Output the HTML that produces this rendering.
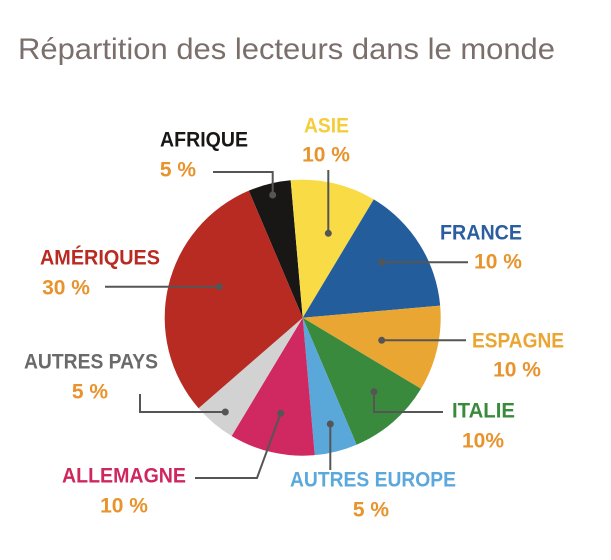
<!DOCTYPE html>
<html><head><meta charset="utf-8"><style>
html,body{margin:0;padding:0;background:#fff;width:611px;height:560px;overflow:hidden}
svg{display:block}
</style></head><body>
<svg id="c" width="611" height="560" xmlns="http://www.w3.org/2000/svg">
<text x="18" y="59" font-family="Liberation Sans, sans-serif" font-size="30" fill="#7a6f6b" textLength="537" lengthAdjust="spacingAndGlyphs">Répartition des lecteurs dans le monde</text>
</svg>
<script>
const categories = ["AFRIQUE","ASIE","FRANCE","ESPAGNE","ITALIE","AUTRES EUROPE","ALLEMAGNE","AUTRES PAYS","AMÉRIQUES"];
const values = [5,10,15,10,10,5,10,5,30];
const valueLabels = ["5 %","10 %","10 %","10 %","10%","5 %","10 %","5 %","30 %"];
const colors = ["#181716","#f9dc45","#245d9c","#eaa632","#3a8a3e","#5aa7da","#d02860","#d1d2d1","#b82b23"];
const labelColors = ["#181716","#f5cd3b","#2a5ea0","#eba532","#3a8a3e","#5ba8dc","#d0265e","#6a6a6a","#b82a22"];
const cx=302.7, cy=317.7, R=138, startDeg=-23;
const svg=document.getElementById('c');
const NS='http://www.w3.org/2000/svg';
function pt(deg,r){const a=(deg-90)*Math.PI/180;return [cx+r*Math.cos(a),cy+r*Math.sin(a)];}
const total=values.reduce((a,b)=>a+b,0);
let acc=startDeg;
values.forEach((v,i)=>{
  const span=v/total*360;
  const a0=acc,a1=acc+span;acc=a1;
  const p0=pt(a0,R),p1=pt(a1,R);
  const p=document.createElementNS(NS,'path');
  p.setAttribute('d',`M${cx},${cy}L${p0[0]},${p0[1]}A${R},${R} 0 ${span>180?1:0} 1 ${p1[0]},${p1[1]}Z`);
  p.setAttribute('fill',colors[i]);
  
  
  svg.appendChild(p);
});
const leaders=[
  [[272.7,172],[213,172]],
  [[328.3,170]],
  [[468,262.3]],
  [[466,340.3]],
  [[374,412],[443,412]],
  [[330.3,470]],
  [[257,478],[195,478]],
  [[140,412],[140,394]],
  [[105,286.7]]
];
const dots=[[272.7,195],[328.3,233.3],[381.7,262.3],[381.7,340.3],[374,391.7],[330.3,424],[280.7,413.3],[225.3,412],[219.3,286.7]];
leaders.forEach((l,i)=>{
  const pts=[dots[i]].concat(l).map(q=>q.join(',')).join(' ');
  const pl=document.createElementNS(NS,'polyline');
  pl.setAttribute('points',pts);pl.setAttribute('fill','none');pl.setAttribute('stroke','#555');pl.setAttribute('stroke-width','2');
  
  
  svg.appendChild(pl);
  const c=document.createElementNS(NS,'circle');
  c.setAttribute('cx',dots[i][0]);c.setAttribute('cy',dots[i][1]);c.setAttribute('r','3.5');c.setAttribute('fill','#555');
  
  
  svg.appendChild(c);
});
const labelPos=[[160,88,140,178,170],[304,45,126,326,155],[440,82,233,498,262],[472,92,341,517,370],[452,63,411,483,441],[290,166,480,371,510],[62,124,476,124,506],[24,134,362,90,392],[40,120,258,66,288]];
function txt(s,x,y,w,fill,anchor,name){
  const t=document.createElementNS(NS,'text');
  t.textContent=s;t.setAttribute('x',x);t.setAttribute('y',y);
  t.setAttribute('font-family','Liberation Sans, sans-serif');t.setAttribute('font-weight','bold');t.setAttribute('font-size','21');
  t.setAttribute('fill',fill);t.setAttribute('text-anchor',anchor);t.setAttribute('dominant-baseline','central');
  if(w){t.setAttribute('textLength',w);t.setAttribute('lengthAdjust','spacingAndGlyphs');}
  
  
  svg.appendChild(t);
}
categories.forEach((c,i)=>{
  const L=labelPos[i];
  txt(c,L[0],L[2],L[1],labelColors[i],'start','label-name');
  txt(valueLabels[i],L[3],L[4],null,'#e8932c','middle','label-value');
});
</script>
</body></html>
